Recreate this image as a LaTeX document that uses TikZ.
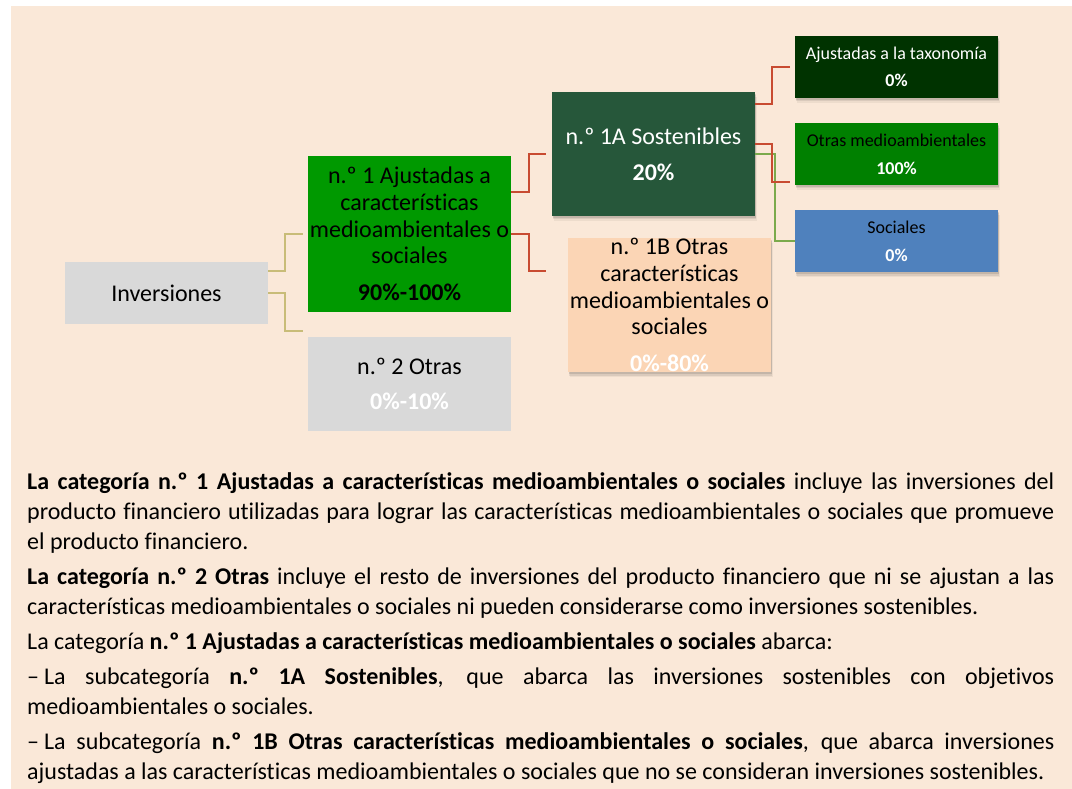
\documentclass[tikz,border=0pt]{standalone}
\usepackage{fontspec}
\setmainfont{Carlito}[Ligatures={NoCommon}]
\usetikzlibrary{shadows,calc}
\definecolor{bgc}{HTML}{FAE8D8}
\definecolor{greyc}{HTML}{D9D9D9}
\definecolor{g1c}{HTML}{009900}
\definecolor{sostc}{HTML}{26573A}
\definecolor{peachc}{HTML}{FBD5B5}
\definecolor{taxc}{HTML}{003300}
\definecolor{otmc}{HTML}{008000}
\definecolor{socc}{HTML}{4F81BD}
\definecolor{tanc}{HTML}{C8BC78}
\definecolor{redc}{HTML}{C84B31}
\definecolor{grnc}{HTML}{7BAA4C}
\begin{document}
\begin{tikzpicture}[x=1pt,y=-1pt,
  box/.style={rectangle, inner sep=0pt, align=center, minimum width=203pt},
  big/.style={font=\fontsize{24}{26.7}\selectfont},
  small/.style={font=\fontsize{18}{22}\selectfont},
  shad/.style={
    drop shadow={shadow xshift=1.5pt, shadow yshift=-5pt, opacity=0.05, fill=black},
    drop shadow={shadow xshift=1pt, shadow yshift=-3.5pt, opacity=0.08, fill=black},
    drop shadow={shadow xshift=0.5pt, shadow yshift=-2pt, opacity=0.10, fill=black}},
  tanline/.style={draw=tanc, line width=1.8pt},
  redline/.style={draw=redc, line width=1.8pt},
  grnline/.style={draw=grnc, line width=1.6pt},
  para/.style={anchor=base west, inner sep=0pt, text width=1027pt, align=justify,
    font=\fontsize{24}{30}\selectfont}
]
\useasboundingbox (0,0) rectangle (1072,789);
\fill[bgc] (11,6) rectangle (1072,789);

% boxes
\node[box, big, fill=greyc, minimum height=62pt] (inv) at (166.5,293) {Inversiones};
\node[box, big, fill=g1c, minimum height=156pt] (g1) at (409.5,234)
  {n.º 1 Ajustadas a\\ características\\ medioambientales o\\ sociales\\[10pt]\textbf{90\%-100\%}};
\node[box, big, fill=greyc, minimum height=94pt] (o2) at (409.5,384)
  {n.º 2 Otras\\[9pt]\textcolor{white}{\textbf{0\%-10\%}}};
\node[box, big, fill=sostc, text=white, minimum height=124pt, shad] (s1a) at (653.5,154)
  {n.º 1A Sostenibles\\[9pt]\textbf{20\%}};
\node[box, big, fill=peachc, minimum height=134pt, shad] (o1b) at (669.5,305)
  {n.º 1B Otras\\ características\\ medioambientales o\\ sociales\\[10pt]\textcolor{white}{\textbf{0\%-80\%}}};
\node[box, small, fill=taxc, text=white, minimum height=62pt, shad] (tax) at (896.5,67)
  {Ajustadas a la taxonomía\\[5pt]\textbf{0\%}};
\node[box, small, fill=otmc, minimum height=62pt, shad] (otm) at (896.5,154)
  {Otras medioambientales\\[6pt]\textcolor{white}{\textbf{100\%}}};
\node[box, small, fill=socc, minimum height=62pt, shad] (soc) at (896.5,241)
  {Sociales\\[6pt]\textcolor{white}{\textbf{0\%}}};

% connector free ends
\coordinate (e1) at (303,234);
\coordinate (e2) at (303,331);
\coordinate (r1) at (546,154);
\coordinate (r2) at (546,271);
\coordinate (t1) at (790,67);
\coordinate (t2) at (790,182);

% connectors
\draw[tanline] ($(inv.east)+(0,-22)$) -- ++(17,0) |- (e1);
\draw[tanline] (inv.east) -- ++(17,0) |- (e2);
\draw[redline] ($(g1.east)+(0,-42)$) -- ++(18,0) |- (r1);
\draw[redline] (g1.east) -- ++(18,0) |- (r2);
\draw[grnline] (s1a.east) -- ++(20,0) |- (soc.west);
\draw[redline] ($(s1a.east)+(0,-50)$) -- ++(17,0) |- (t1);
\draw[redline] ($(s1a.east)+(0,-10)$) -- ++(17,0) |- (t2);

% explanatory text
\node[para] (txt) at (27,489) {\setlength{\parindent}{0pt}\setlength{\parskip}{5pt}\hyphenpenalty=10000\exhyphenpenalty=10000
\textbf{La categoría n.º 1 Ajustadas a características medioambientales o sociales} incluye las inversiones del\linebreak producto financiero utilizadas para lograr las características medioambientales o sociales que promueve\linebreak el producto financiero.\par
\textbf{La categoría n.º 2 Otras} incluye el resto de inversiones del producto financiero que ni se ajustan a las\linebreak características medioambientales o sociales ni pueden considerarse como inversiones sostenibles.\par
La categoría \textbf{n.º 1 Ajustadas a características medioambientales o sociales} abarca:\par
–\hspace{5pt}La subcategoría \textbf{n.º 1A Sostenibles}, que abarca las inversiones sostenibles con objetivos\linebreak medioambientales o sociales.\par
–\hspace{5pt}La subcategoría \textbf{n.º 1B Otras características medioambientales o sociales}, que abarca inversiones\linebreak ajustadas a las características medioambientales o sociales que no se consideran inversiones sostenibles.};
\end{tikzpicture}
\end{document}
